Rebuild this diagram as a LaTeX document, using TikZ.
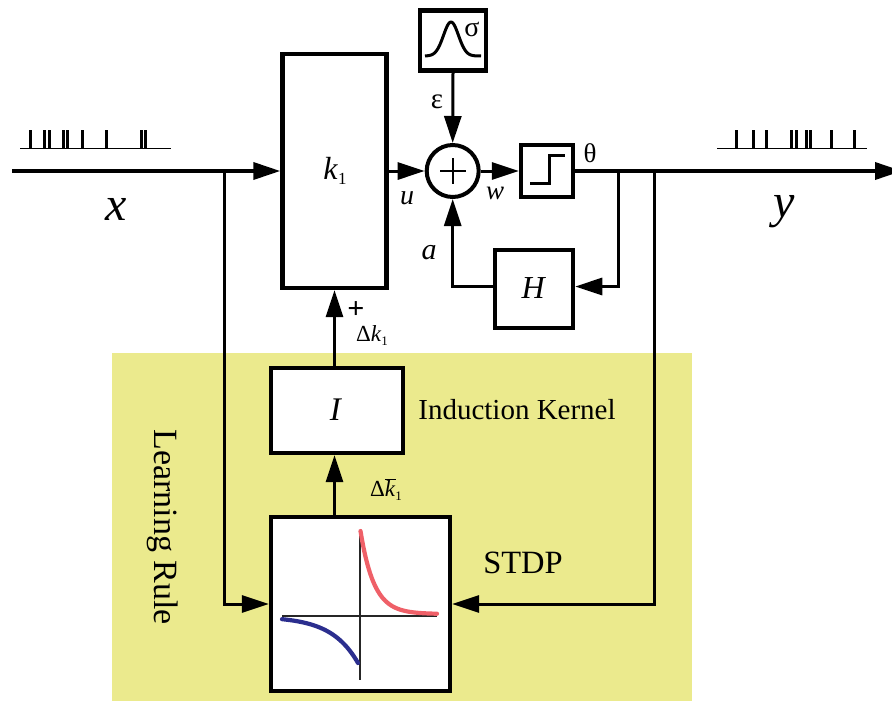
\documentclass[tikz,border=0pt]{standalone}
\usepackage{fontspec}
\setmainfont{Liberation Serif}
\usetikzlibrary{arrows.meta,calc}
\newcommand{\fsz}[1]{\fontsize{#1}{#1}\selectfont}
\definecolor{rulebg}{HTML}{EBEA8D}
\definecolor{stdpred}{HTML}{EF6068}
\definecolor{stdpblue}{HTML}{2B2E8E}
\tikzset{
  blockbox/.style={draw=black,fill=white,line width=4.4pt,inner sep=0pt},
  wire/.style={draw=black,line width=3pt},
  mainwire/.style={draw=black,line width=3.6pt},
  flow/.style={-{Triangle[length=27pt,width=17pt]}},
  train/.style={draw=black,line width=1.8pt},
  spike/.style={draw=black,line width=3pt},
  lbl/.style={inner sep=0pt,text=black},
}
\begin{document}
\begin{tikzpicture}[x=1pt,y=-1pt]
\clip (0,0) rectangle (892,702);
\fill[white] (0,0) rectangle (892,702);
\fill[rulebg] (112,353) rectangle (692,701);

% blocks
\node[blockbox,minimum width=104pt,minimum height=234pt] (k) at (334.5,171) {};
\node[blockbox,minimum width=66pt,minimum height=60pt] (g) at (453,40.5) {};
\node[blockbox,line width=4pt,circle,minimum size=52pt] (sum) at (452.7,171) {};
\node[blockbox,minimum width=52pt,minimum height=52pt] (step) at (547,171) {};
\node[blockbox,line width=4pt,minimum width=78.5pt,minimum height=78.5pt] (H) at (534,289) {};
\node[blockbox,minimum width=132pt,minimum height=85pt] (I) at (337,410.5) {};
\node[blockbox,minimum width=179pt,minimum height=174pt] (stdp) at (360.5,604) {};

% free ends and junctions
\coordinate (in) at (12,171);
\coordinate (out) at (902,171);
\coordinate (jx) at (224,171);
\coordinate (jh) at (618,171);
\coordinate (jy) at (654,171);

% connectors
\draw[mainwire,flow] (in) -- (k.west);
\draw[wire,flow] (k.east) -- (sum.west);
\draw[wire,flow] (sum.east) -- (step.west);
\draw[wire,flow] (g.south) -- (sum.north);
\draw[mainwire,flow] (step.east) -- (out);
\draw[wire,flow] (jh) |- ([yshift=2.5pt]H.east);
\draw[wire,flow] ([yshift=2.5pt]H.west) -| (sum.south);
\draw[wire,flow] (jx) |- (stdp.west);
\draw[wire,flow] (jy) |- (stdp.east);
\draw[wire,flow] (I.north -| k.south) -- (k.south);
\draw[wire,flow] (stdp.north -| k.south) -- (I.south -| k.south);

% sum cross
\draw[line width=2.2pt] (440,171) -- (466,171) (453,158) -- (453,184);

% gaussian
\draw[line width=3pt,line join=round,domain=425:481,samples=60,smooth]
  plot (\x,{56-34*exp(-(\x-451)*(\x-451)/(2*7.5*7.5))});
% step
\draw[line width=3pt] (530,183.5) -- (549,183.5) -- (549,155.5) -- (565,155.5);

% spike trains
\draw[train] (20,148.5) -- (171,148.5);
\foreach \s in {30.7,44,49.3,63.3,67.3,82,106,141,145.3}
  \draw[spike] (\s,130) -- (\s,148.5);
\draw[train] (717,148.5) -- (867,148.5);
\foreach \s in {736.7,753.3,766.7,791.3,796.7,806,810.7,831.3,854.3}
  \draw[spike] (\s,130) -- (\s,148.5);

% STDP chart
\draw[black!85,line width=1.8pt] (282,615.7) -- (437,615.7) (360,530) -- (360,680);
\draw[stdpred,line width=4.2pt,line cap=round,domain=360.5:437,samples=50,smooth]
  plot (\x,{614-83*exp(-(\x-360.5)/13.5)});
\draw[stdpblue,line width=4.2pt,line cap=round,domain=282:358,samples=50,smooth]
  plot (\x,{616.5+46.5*exp((\x-358)/26.6)});

% labels
\node[lbl] (lx) at (116,209) {\fsz{48}\textit{x}};
\node[lbl] (ly) at (784,212) {\fsz{48}\textit{y}};
\node[lbl] (lk) at (335,171) {\fsz{32}\textit{k}\raisebox{-5pt}{\fsz{17}1}};
\node[lbl] (lsig) at (472,29) {\fsz{28}σ};
\node[lbl] (leps) at (437,102) {\fsz{29}ε};
\node[lbl] (lth) at (590,153) {\fsz{27}θ};
\node[lbl] (lu) at (407,198) {\fsz{28}\textit{u}};
\node[lbl] (lw) at (495,193) {\fsz{27}\textit{w}};
\node[lbl] (la) at (429,253) {\fsz{30}\textit{a}};
\node[lbl] (lH) at (534,288) {\fsz{32}\textit{H}};
\node[lbl] (lI) at (336,410) {\fsz{33}\textit{I}};
\node[lbl] (lplus) at (356,310) {\fsz{30}\textbf{+}};
\node[lbl] (ld1) at (372,336) {\fsz{23}Δ\textit{k}\raisebox{-4pt}{\fsz{13}1}};
\node[lbl] (ld2) at (386,490) {\fsz{23}Δ\makebox[0pt][l]{\raisebox{16.5pt}{\rule{11pt}{0.8pt}}}\textit{k}\raisebox{-4pt}{\fsz{13}1}};
\node[lbl] (lind) at (517,410) {\fsz{29}Induction Kernel};
\node[lbl] (lst) at (523,563) {\fsz{32.5}STDP};
\node[lbl,rotate=-90] (lrule) at (163,527) {\fsz{34}Learning Rule};
\end{tikzpicture}
\end{document}
